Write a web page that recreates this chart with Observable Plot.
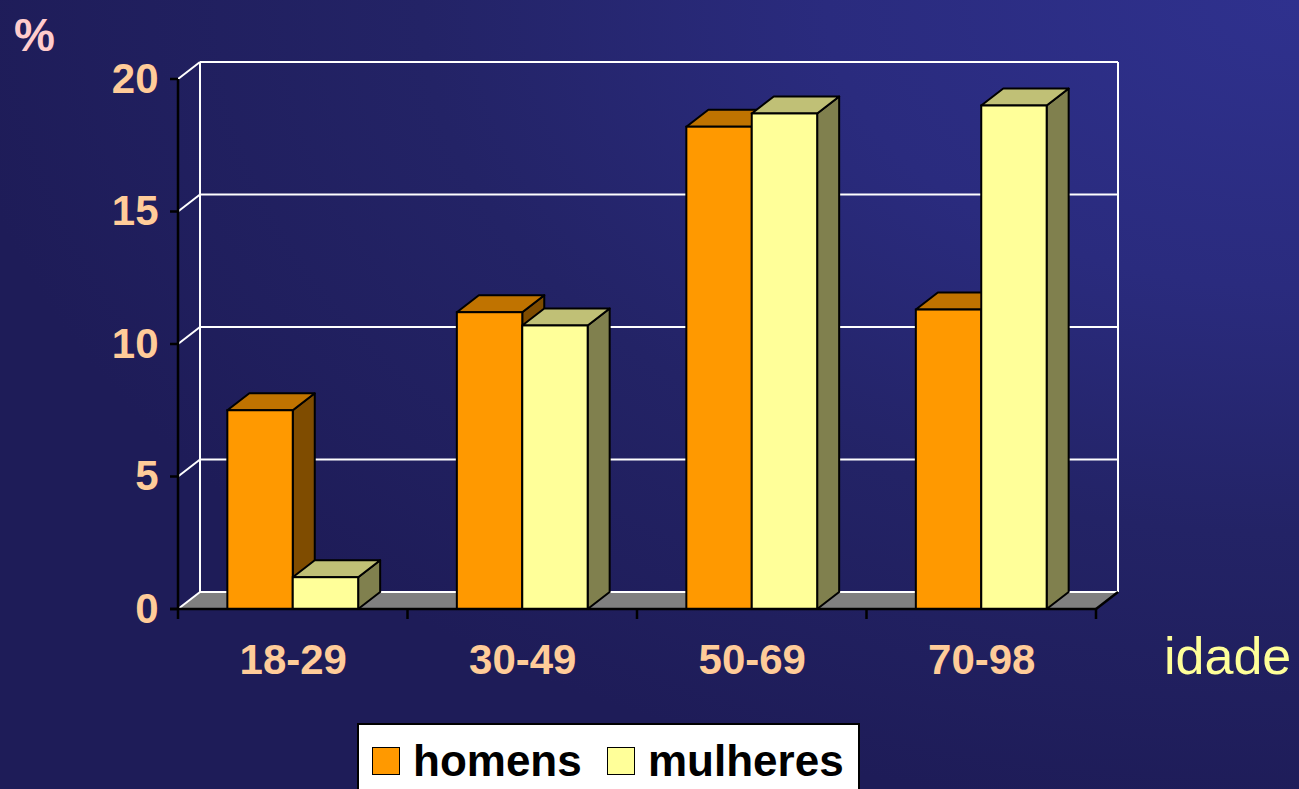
<!DOCTYPE html>
<html><head><meta charset="utf-8">
<script src="https://cdn.jsdelivr.net/npm/d3@7"></script>
<script src="https://cdn.jsdelivr.net/npm/@observablehq/plot@0.6"></script>
<style>
html,body{margin:0;padding:0;width:1299px;height:789px;overflow:hidden;}
body{position:relative;font-family:"Liberation Sans",Arial,sans-serif;
 background:radial-gradient(ellipse 1350px 820px at 100% 0%, #2f318e 0%, #2a2b7e 35%, #232366 65%, #1e1c58 100%);}
#chart{position:absolute;left:0;top:0;}
.lbl{position:absolute;white-space:nowrap;line-height:1;}
#pct{left:14px;top:12px;font-size:46px;font-weight:bold;color:#FFCCCC;}
#idade{left:1164px;top:630px;font-size:52px;color:#FFFF99;}
#legend{position:absolute;left:357px;top:723px;width:499px;height:90px;background:#fff;border:2px solid #000;}
#legend .sw{position:absolute;top:22px;width:26px;height:26px;border:1.5px solid #000;}
#legend .tx{position:absolute;top:14px;font-size:44px;font-weight:bold;color:#000;line-height:1;}
</style></head><body>
<div id="chart"></div>
<div class="lbl" id="pct"></div>
<div class="lbl" id="idade"></div>
<div id="legend"></div>
<script>
const categories = ["18-29", "30-49", "50-69", "70-98"];
const seriesNames = ["homens", "mulheres"];
const homens = [7.5, 11.2, 18.2, 11.3];
const mulheres = [1.2, 10.7, 18.7, 19.0];
const yTicks = [0, 5, 10, 15, 20];
const yLabel = "%";
const xLabel = "idade";

const frontColors = {homens: "#FF9900", mulheres: "#FFFF99"};
const topColors = {homens: "#C07300", mulheres: "#C0C076"};
const sideColors = {homens: "#7F4C00", mulheres: "#80804E"};

const BW = 0.285;        // bar width in category units
const DX = 22, DY = -17; // 3D depth offset (pixels)

const rows = [];
categories.forEach((c, i) => {
  [homens, mulheres].forEach((vals, s) => {
    const x1 = i + 0.5 + (s - 1) * BW;
    rows.push({cat: c, idx: i, series: seriesNames[s], value: vals[i], x1, x2: x1 + BW});
  });
});
const catCenters = categories.map((c, i) => ({cat: c, pos: i + 0.5}));
const boundaries = d3.range(categories.length + 1);

function wall(index, {x, y}) {
  const g = d3.create("svg:g");
  const x0 = x(0), x4 = x(categories.length), y0 = y(0), yT = y(d3.max(yTicks));
  g.append("path")
    .attr("d", `M${x0},${y0}L${x4},${y0}L${x4 + DX},${y0 + DY}L${x0 + DX},${y0 + DY}Z`)
    .attr("fill", "#808080");
  for (const t of yTicks) {
    g.append("line").attr("x1", x0 + DX).attr("x2", x4 + DX)
      .attr("y1", y(t) + DY).attr("y2", y(t) + DY)
      .attr("stroke", "#fff").attr("stroke-width", 2);
    g.append("line").attr("x1", x0).attr("x2", x0 + DX)
      .attr("y1", y(t)).attr("y2", y(t) + DY)
      .attr("stroke", "#fff").attr("stroke-width", 2);
  }
  for (const xx of [x0 + DX, x4 + DX]) {
    g.append("line").attr("x1", xx).attr("x2", xx)
      .attr("y1", y0 + DY).attr("y2", yT + DY)
      .attr("stroke", "#fff").attr("stroke-width", 2);
  }
  return g.node();
}

function faces(index, {x, y}) {
  const g = d3.create("svg:g").attr("stroke", "#000").attr("stroke-width", 2).attr("stroke-linejoin", "round");
  for (const r of rows) {
    const a = x(r.x1), b = x(r.x2), t = y(r.value), z = y(0);
    g.append("path")
      .attr("d", `M${b},${z}L${b},${t}L${b + DX},${t + DY}L${b + DX},${z + DY}Z`)
      .attr("fill", sideColors[r.series]);
    g.append("path")
      .attr("d", `M${a},${t}L${b},${t}L${b + DX},${t + DY}L${a + DX},${t + DY}Z`)
      .attr("fill", topColors[r.series]);
  }
  return g.node();
}

function frame(index, {x, y}) {
  const g = d3.create("svg:g").attr("stroke", "#000").attr("stroke-width", 2.5);
  const x0 = x(0), x4 = x(categories.length), y0 = y(0), yT = y(d3.max(yTicks));
  g.append("line").attr("x1", x0).attr("x2", x0).attr("y1", y0).attr("y2", yT);
  g.append("line").attr("x1", x0 - 8).attr("x2", x4).attr("y1", y0).attr("y2", y0);
  g.append("line").attr("x1", x4).attr("x2", x4 + DX).attr("y1", y0).attr("y2", y0 + DY);
  for (const t of yTicks) {
    g.append("line").attr("x1", x0 - 8).attr("x2", x0).attr("y1", y(t)).attr("y2", y(t));
  }
  for (const bnd of boundaries) {
    g.append("line").attr("x1", x(bnd)).attr("x2", x(bnd)).attr("y1", y0).attr("y2", y0 + 10);
  }
  return g.node();
}

const plot = Plot.plot({
  width: 1299,
  height: 789,
  marginLeft: 178,
  marginRight: 203,
  marginTop: 79,
  marginBottom: 180,
  style: {background: "transparent", fontFamily: "Liberation Sans, Arial, sans-serif"},
  x: {type: "linear", domain: [0, categories.length], axis: null},
  y: {type: "linear", domain: [0, d3.max(yTicks)], axis: null},
  marks: [
    wall,
    faces,
    Plot.rect(rows, {x1: "x1", x2: "x2", y1: 0, y2: "value", fill: d => frontColors[d.series], stroke: "#000", strokeWidth: 2}),
    frame,
    Plot.text(yTicks, {x: 0, y: d => d, dx: -20, text: d => String(d), textAnchor: "end", fill: "#FFCC99", fontSize: 42, fontWeight: "bold"}),
    Plot.text(catCenters, {x: "pos", y: 0, dy: 51, text: "cat", fill: "#FFCC99", fontSize: 42, fontWeight: "bold"})
  ]
});
document.getElementById("chart").appendChild(plot);

document.getElementById("pct").textContent = yLabel;
document.getElementById("idade").textContent = xLabel;

const leg = document.getElementById("legend");
const legPos = [{sw: 13, tx: 54}, {sw: 248, tx: 289}];
seriesNames.forEach((s, i) => {
  const sw = document.createElement("div");
  sw.className = "sw"; sw.style.left = legPos[i].sw + "px"; sw.style.background = frontColors[s];
  const tx = document.createElement("div");
  tx.className = "tx"; tx.style.left = legPos[i].tx + "px"; tx.textContent = s;
  leg.appendChild(sw); leg.appendChild(tx);
});
</script>
</body></html>
